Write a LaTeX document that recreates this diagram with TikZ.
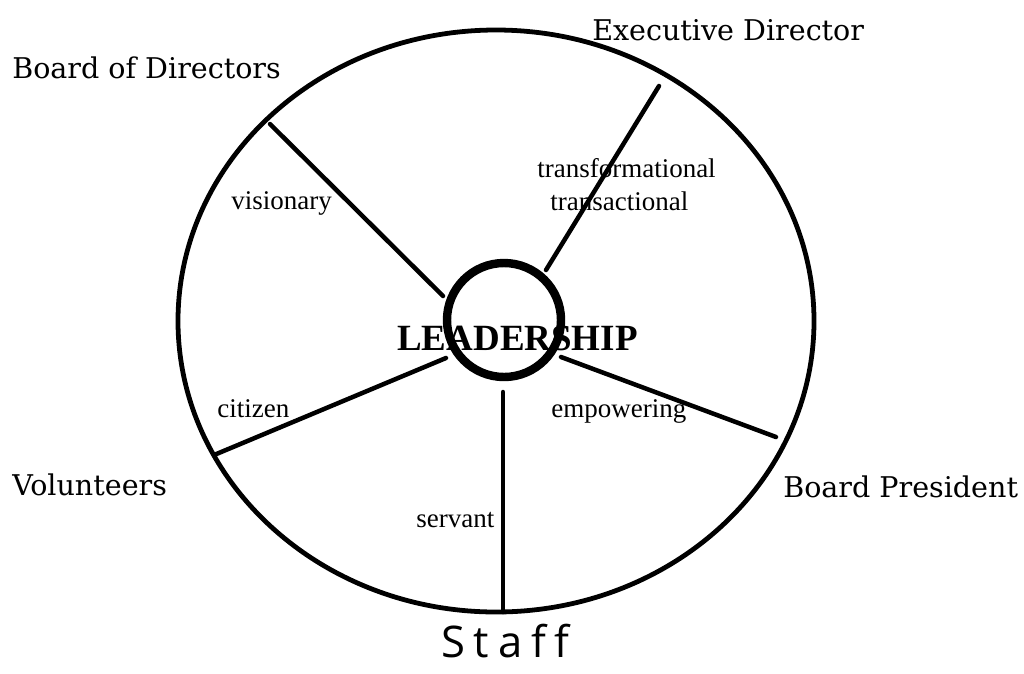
\documentclass[tikz,border=0pt]{standalone}
\usepackage{fontspec}
\setmainfont{Liberation Serif}
\newfontfamily\rolefont{DejaVu Serif}
\newfontfamily\handfont[LetterSpace=20,Ligatures=NoCommon]{Open Sans}
\usetikzlibrary{positioning}

\begin{document}
\begin{tikzpicture}[x=0.025cm,y=-0.025cm,line cap=round]
  %--- Styles ---
  \tikzset{
    rim/.style={line width=3.4pt},
    spoke/.style={line width=3.2pt},
    role/.style={font=\rolefont\fontsize{20.3}{24}\selectfont,anchor=base west,inner sep=0pt},
    trait/.style={font=\fontsize{19.2}{22}\selectfont,anchor=base west,inner sep=0pt},
  }
  \useasboundingbox (0,0) rectangle (1024,673);

  %--- Outer wheel ---
  \draw[rim] (496,321) ellipse (318 and 291);

  %--- Spoke end points (rim side / hub side) ---
  \coordinate (bodOut) at (270,124);  \coordinate (bodIn) at (443,296);
  \coordinate (exdOut) at (659,86);   \coordinate (exdIn) at (546,270);
  \coordinate (bprOut) at (776,437);  \coordinate (bprIn) at (561,357);
  \coordinate (stfOut) at (503,612);  \coordinate (stfIn) at (503,392);
  \coordinate (volOut) at (214,455);  \coordinate (volIn) at (446,358);

  \foreach \s in {bod,exd,bpr,stf,vol}
    \draw[spoke] (\s Out) -- (\s In);

  %--- Hub ---
  \draw[line width=6pt] (504,320) circle (57);
  \node[anchor=base west,inner sep=0pt,font=\bfseries\fontsize{26.3}{30}\selectfont] (lead) at (397,350) {LEADERSHIP};

  %--- Roles round the wheel ---
  \node[role] (board) at (12,78) {Board of Directors};
  \node[role] (exec) at (592,40) {Executive Director};
  \node[role] (vols) at (12,495) {Volunteers};
  \node[role] (pres) at (783,497) {Board President};
  \node[anchor=base west,inner sep=0pt,font=\handfont\fontsize{31}{36}\selectfont] (staff) at (441,657) {Staff};

  %--- Styles of leadership ---
  \node[trait] (vis) at (231,209) {visionary};
  \node[trait] (tfm) at (537,177) {transformational};
  \node[trait] (tsa) at (550,210) {transactional};
  \node[trait] (cit) at (217,417) {citizen};
  \node[trait] (emp) at (551,417) {empowering};
  \node[trait] (srv) at (416,527) {servant};
\end{tikzpicture}
\end{document}
